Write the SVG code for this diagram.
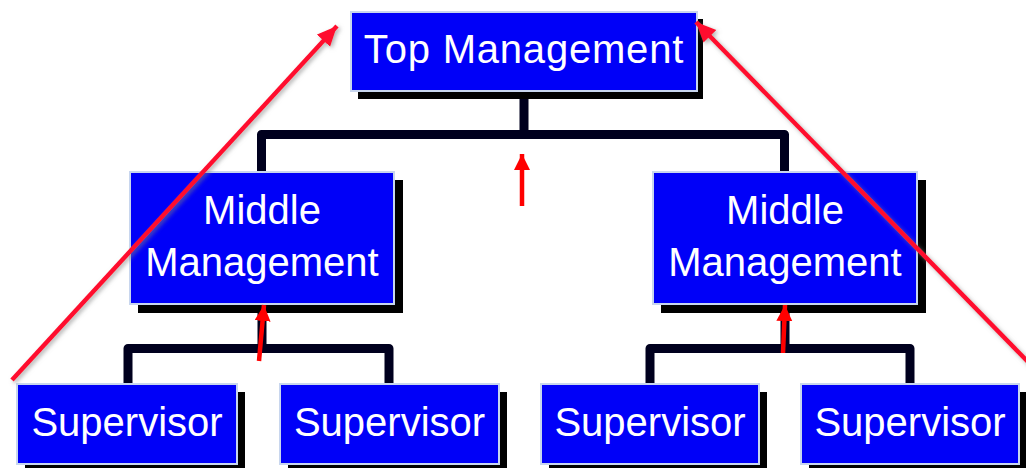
<svg xmlns="http://www.w3.org/2000/svg" width="1026" height="468" viewBox="0 0 1026 468">
  <style>
    .box { fill: #0000f8; stroke: #c8d6ee; stroke-width: 2; }
    .shadow { fill: #000000; }
    .lbl { font-family: "Liberation Sans", Arial, sans-serif; font-size: 40px; fill: #ffffff; text-anchor: middle; }
    .wide { letter-spacing: 0.8px; }
    .conn { fill: none; stroke: #00001e; stroke-width: 9; stroke-linejoin: round; }
    .diag { fill: none; stroke: #ff0a2e; stroke-width: 4.5; }
    .up { fill: none; stroke: #ff0000; stroke-width: 4.5; }
  </style>
  <defs>
    <filter id="soft" x="-10%" y="-10%" width="120%" height="120%">
      <feDropShadow dx="2" dy="2" stdDeviation="2" flood-color="#808080" flood-opacity="0.6"/>
    </filter>
    <marker id="headD" markerUnits="userSpaceOnUse" markerWidth="24" markerHeight="20" refX="20" refY="9" orient="auto">
      <path d="M0,0 L20,9 L0,18 Z" fill="#ff0a2e"/>
    </marker>
    <marker id="headU" markerUnits="userSpaceOnUse" markerWidth="20" markerHeight="18" refX="16" refY="8" orient="auto">
      <path d="M0,0 L16,8 L0,16 Z" fill="#ff0000"/>
    </marker>
  </defs>

  <g id="connectors">
    <path class="conn" d="M524,91 V134.5 H261.5 V172 M524,134.5 H784.5 V172"/>
    <path class="conn" d="M262,304 V348.5 H128 V384 M262,348.5 H389 V384"/>
    <path class="conn" d="M785,304 V348.5 H650 V384 M785,348.5 H910 V384"/>
  </g>

  <g id="top-management">
    <rect class="shadow" x="358" y="19" width="345" height="80"/>
    <rect class="box" x="351" y="12" width="346" height="79"/>
    <text class="lbl wide" x="524" y="63">Top Management</text>
  </g>

  <g id="middle-management-left">
    <rect class="shadow" x="138" y="180" width="265" height="133"/>
    <rect class="box" x="130" y="172" width="264" height="132"/>
    <text class="lbl" x="262" y="224">Middle</text>
    <text class="lbl" x="262" y="276">Management</text>
  </g>

  <g id="middle-management-right">
    <rect class="shadow" x="661" y="180" width="265" height="133"/>
    <rect class="box" x="653" y="172" width="264" height="132"/>
    <text class="lbl" x="785" y="224">Middle</text>
    <text class="lbl" x="785" y="276">Management</text>
  </g>

  <g id="supervisor-1">
    <rect class="shadow" x="25" y="392" width="220" height="80"/>
    <rect class="box" x="17" y="384" width="220" height="80"/>
    <text class="lbl" x="127" y="436">Supervisor</text>
  </g>

  <g id="supervisor-2">
    <rect class="shadow" x="288" y="392" width="219" height="80"/>
    <rect class="box" x="280" y="384" width="219" height="80"/>
    <text class="lbl" x="389.5" y="436">Supervisor</text>
  </g>

  <g id="supervisor-3">
    <rect class="shadow" x="549" y="392" width="218" height="80"/>
    <rect class="box" x="541" y="384" width="218" height="80"/>
    <text class="lbl" x="650" y="436">Supervisor</text>
  </g>

  <g id="supervisor-4">
    <rect class="shadow" x="809" y="392" width="218" height="80"/>
    <rect class="box" x="801" y="384" width="218" height="80"/>
    <text class="lbl" x="910" y="436">Supervisor</text>
  </g>

  <g id="annotations">
    <line class="diag" filter="url(#soft)" x1="12" y1="380" x2="337" y2="26" marker-end="url(#headD)"/>
    <line class="diag" filter="url(#soft)" x1="1032" y1="366" x2="696" y2="22" marker-end="url(#headD)"/>
    <line class="up" x1="522" y1="206" x2="522" y2="154" marker-end="url(#headU)"/>
    <line class="up" x1="259" y1="361" x2="264" y2="305" marker-end="url(#headU)"/>
    <line class="up" x1="783" y1="353" x2="785" y2="305" marker-end="url(#headU)"/>
  </g>
</svg>
